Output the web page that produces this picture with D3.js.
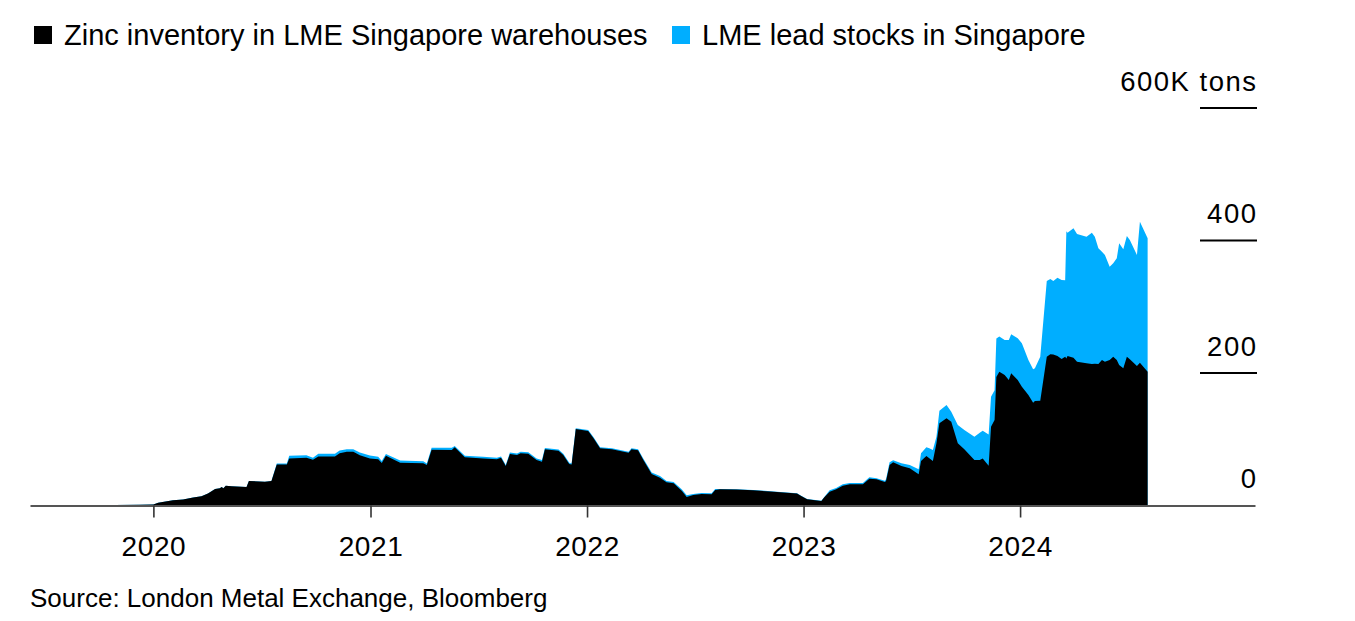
<!DOCTYPE html>
<html><head><meta charset="utf-8">
<script src="https://cdn.jsdelivr.net/npm/d3@7"></script>
<style>body{margin:0;background:#fff} text{font-family:"Liberation Sans",Arial,sans-serif}</style>
</head><body><svg id="c" width="1355" height="621"></svg>
<script>
const dates = ["2019-06-10","2019-09-16","2019-12-09","2020-01-01","2020-01-09","2020-02-03","2020-02-20","2020-03-08","2020-03-22","2020-04-02","2020-04-14","2020-04-22","2020-04-25","2020-04-28","2020-05-02","2020-05-12","2020-06-06","2020-06-10","2020-07-07","2020-07-18","2020-07-27","2020-08-13","2020-08-17","2020-09-15","2020-09-26","2020-10-05","2020-11-02","2020-11-10","2020-11-22","2020-12-03","2020-12-14","2020-12-31","2021-01-14","2021-01-20","2021-01-27","2021-02-20","2021-03-31","2021-04-06","2021-04-14","2021-05-18","2021-05-23","2021-06-09","2021-07-10","2021-08-02","2021-08-09","2021-08-17","2021-08-24","2021-09-05","2021-09-11","2021-09-24","2021-10-08","2021-10-17","2021-10-22","2021-11-14","2021-11-22","2021-12-02","2021-12-06","2021-12-13","2022-01-03","2022-01-12","2022-01-23","2022-02-12","2022-03-12","2022-03-17","2022-03-28","2022-04-06","2022-04-20","2022-05-04","2022-05-15","2022-05-27","2022-06-10","2022-06-18","2022-06-29","2022-07-13","2022-07-30","2022-08-05","2022-08-13","2022-09-10","2022-10-08","2022-11-06","2022-12-21","2022-12-28","2023-01-07","2023-01-31","2023-02-05","2023-02-14","2023-02-25","2023-03-08","2023-03-20","2023-04-11","2023-04-22","2023-05-04","2023-05-18","2023-05-20","2023-05-26","2023-06-01","2023-06-15","2023-06-29","2023-07-14","2023-07-18","2023-07-27","2023-08-01","2023-08-07","2023-08-13","2023-08-18","2023-08-30","2023-09-07","2023-09-18","2023-09-29","2023-10-16","2023-10-25","2023-10-30","2023-11-09","2023-11-13","2023-11-19","2023-11-22","2023-11-27","2023-12-06","2023-12-13","2023-12-17","2023-12-28","2024-01-04","2024-01-15","2024-01-23","2024-01-26","2024-02-04","2024-02-15","2024-02-21","2024-02-26","2024-03-04","2024-03-11","2024-03-17","2024-03-19","2024-03-21","2024-03-31","2024-04-06","2024-04-22","2024-05-01","2024-05-06","2024-05-12","2024-05-18","2024-05-23","2024-05-31","2024-06-06","2024-06-12","2024-06-16","2024-06-23","2024-06-29","2024-07-04","2024-07-16","2024-07-21","2024-08-03"];
const zinc = [0,0.5,1,1.5,4,8,9,12,14,18,25,26,28,26,30,29,28,37,36,37,62,62,71,72,69,74,74,79,81,81,76,71,70,64,75,64.6,63.7,61,84,83.8,87.8,72.7,71,69.7,72,59.6,77.7,76.2,78.8,78,68.7,66,84.8,82.7,76.2,62.6,62,115.5,112.4,101.4,86.3,84.8,79.7,84.8,83.3,68.7,47.5,42,35,33.5,21.9,12.8,15.8,17.4,16.9,23.4,24.4,24,23,21,18,14.3,9.3,6.8,12.4,20.9,24.4,30,32,32,40.5,39.5,35.5,37,61,65.2,59.6,56.1,47,67.2,74.7,71.2,67.2,93.9,124,131.6,126.5,93.9,84.8,68.7,68.7,71,60,119,129,194,202,197,189.4,199.5,189.4,179.3,166.8,155.2,157.7,158.2,224.6,228.2,228,225.6,221,224.6,222,225.6,223,217,214.6,213.6,214,213.6,219.6,217,219.6,224.6,219.6,212,207,224.6,220.6,210.5,215.6,202];
const lead = [0,0,0,0,0,0,0,0,0,0,0,0,0,0,0,0,0,0,0,0,1.5,1.5,4,4,3,4,4,4,4,4,4,4.5,3.7,3,2.7,3.4,3,2.5,3,3.2,2.2,2.3,2.5,2.3,2,1.4,2.3,2.3,2.2,2.5,2.3,2.5,2,2,1.8,1.9,1.5,1,1.6,1.6,1.7,1.7,1.6,1.7,1.7,2,2.5,2.5,2,2,2.1,2.6,1.6,1.6,1.6,1.6,0.6,0.5,0.5,0.5,0.5,0.5,0.5,0.4,0.6,2.1,2.1,2,2,2,2,1.5,2,2.5,4.2,3,4.1,4.9,7.6,11.6,13.1,15.1,16.6,10,19,20.1,15.1,27.6,29.2,35.2,41.3,42,47,45,45,58,53,53,60.4,58.9,62.9,65.5,52.8,50.4,49.3,66.4,114.3,113.7,111,118.2,119.4,115.4,192,186.2,195.4,192.8,191.1,198.2,191.7,174.6,163.5,161.1,140.8,141,153.5,183.8,179.7,182.2,180.1,167.6,212.7,201.3];
const seriesNames = ["Zinc inventory in LME Singapore warehouses","LME lead stocks in Singapore"];
const seriesKeys = ["zinc","lead"];
const colors = ["#000000","#00aeff"];
const yTicks = [0,200,400,600];
const yTickLabels = ["0","200","400","600K tons"];
const xTickYears = [2020,2021,2022,2023,2024];
const sourceText = "Source: London Metal Exchange, Bloomberg";

const svg = d3.select("#c");
const parse = d3.timeParse("%Y-%m-%d");
const rows = dates.map((d,i)=>({date:parse(d), zinc:zinc[i], lead:lead[i]}));
const x = d3.scaleTime().domain([parse("2019-06-07"), parse("2025-01-31")]).range([30,1255]);
const y = d3.scaleLinear().domain([0,600]).range([505.5,108]);

const series = d3.stack().keys(seriesKeys)(rows);
const areaTotal = d3.area().x(d=>x(d.data.date)).y0(y(0)).y1(d=>y(d[1]));
const areaLayer = d3.area().x(d=>x(d.data.date)).y0(d=>y(d[0])).y1(d=>y(d[1]));
svg.append("path").attr("fill",colors[1]).attr("d",areaTotal(series[1]));
svg.append("path").attr("fill",colors[0]).attr("d",areaLayer(series[0]));

// y gridline stubs and labels
const yg = svg.append("g");
yg.selectAll("line").data(yTicks.filter(v=>v>0)).join("line")
  .attr("x1",1200).attr("x2",1257).attr("y1",d=>y(d)).attr("y2",d=>y(d))
  .attr("stroke","#000").attr("stroke-width",2);
yg.selectAll("text").data(yTicks).join("text")
  .attr("x",1257.5).attr("y",d=>y(d)-17.5).attr("text-anchor","end")
  .attr("font-size",27.5).attr("letter-spacing","1.5px").attr("fill","#000").text((d,i)=>yTickLabels[i]);

// x axis
const xAxis = d3.axisBottom(x)
  .tickValues(xTickYears.map(yr=>new Date(yr,0,1)))
  .tickFormat(d3.timeFormat("%Y")).tickSize(12).tickSizeOuter(0).tickPadding(19);
const gx = svg.append("g").attr("transform",`translate(0,${y(0)})`).call(xAxis);
gx.select(".domain").attr("stroke","#555").attr("stroke-width",2);
gx.selectAll(".tick line").attr("stroke","#333").attr("stroke-width",1.6);
gx.selectAll(".tick text").attr("font-size",28).attr("letter-spacing","0.6px").attr("fill","#000").attr("font-family","'Liberation Sans',Arial,sans-serif");

// legend
const lx = [34, 672];
const lg = svg.append("g");
seriesNames.forEach((n,i)=>{
  lg.append("rect").attr("x",lx[i]).attr("y",26).attr("width",18).attr("height",18).attr("fill",colors[i]);
  lg.append("text").attr("x",lx[i]+30).attr("y",45).attr("font-size",29).attr("fill","#000").text(n);
});

// source
svg.append("text").attr("x",30).attr("y",607).attr("font-size",26).attr("fill","#000").text(sourceText);
</script></body></html>
